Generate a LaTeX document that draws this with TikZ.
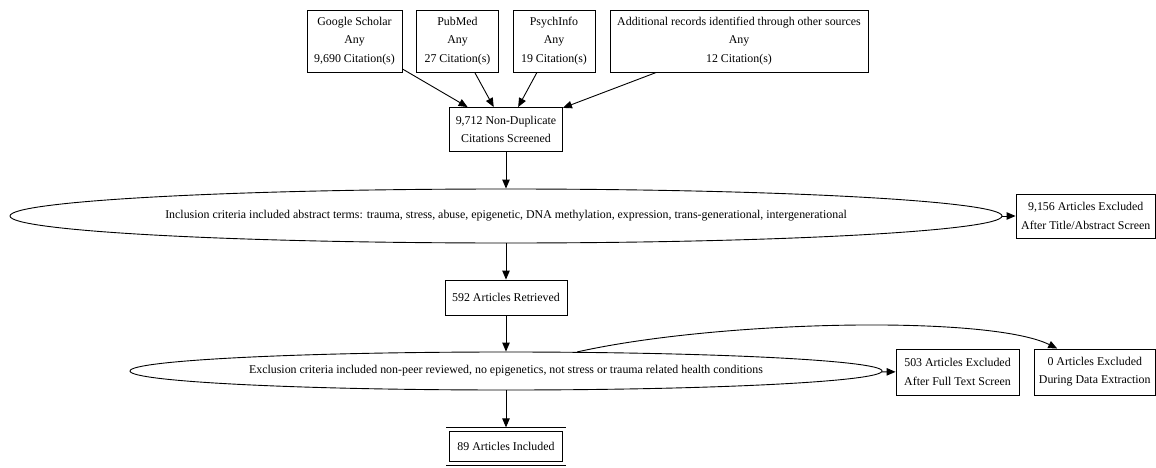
\documentclass[tikz,border=0pt]{standalone}
\usepackage{fontspec}
\setmainfont{Liberation Serif}
\usetikzlibrary{shapes.geometric,arrows.meta}

\begin{document}
\begin{tikzpicture}[
    x=1pt, y=-1pt,
    box/.style={rectangle, draw, line width=0.9pt, align=center, inner sep=2pt, minimum height=44pt, font=\fontsize{11.9}{18.3}\selectfont},
    crit/.style={ellipse, draw, line width=0.9pt, inner sep=0pt, font=\fontsize{11.9}{18.3}\selectfont},
    arrow/.style={-{Triangle[length=9pt, width=7.5pt]}, line width=0.9pt}
]
    \useasboundingbox (0,0) rectangle (1156,468);

    % Sources
    \node[box, minimum width=95pt, minimum height=62pt] (scholar) at (354.5,41) {Google Scholar\\Any\\9,690 Citation(s)};
    \node[box, minimum width=82pt, minimum height=62pt] (pubmed) at (457.5,41) {PubMed\\Any\\27 Citation(s)};
    \node[box, minimum width=82pt, minimum height=62pt] (psych) at (554,41) {PsychInfo\\Any\\19 Citation(s)};
    \node[box, minimum width=258pt, minimum height=62pt] (other) at (739,41) {Additional records identified through other sources\\Any\\12 Citation(s)};

    % Screening
    \node[box, minimum width=113pt] (nondup) at (506,129.5) {9,712 Non-Duplicate\\Citations Screened};
    \node[crit, minimum width=992pt, minimum height=54pt] (incl) at (506,216) {Inclusion criteria included abstract terms: trauma, stress, abuse, epigenetic, DNA methylation, expression, trans-generational, intergenerational};
    \node[box, minimum width=139.5pt] (titleexcl) at (1085.75,216) {9,156 Articles Excluded\\After Title/Abstract Screen};
    \node[box, minimum width=122pt, minimum height=35pt] (retrieved) at (506,297.5) {592 Articles Retrieved};
    \node[crit, minimum width=752pt, minimum height=38pt] (excl) at (506,371) {Exclusion criteria included non-peer reviewed, no epigenetics, not stress or trauma related health conditions};
    \node[box, minimum width=123pt, minimum height=46pt] (fullexcl) at (957.5,372) {503 Articles Excluded\\After Full Text Screen};
    \node[box, minimum width=121.5pt, minimum height=46pt] (dataexcl) at (1094.75,372) {0 Articles Excluded\\During Data Extraction};
    \node[box, double, double distance=2.6pt, minimum width=116.5pt, minimum height=34pt] (included) at (506,446.5) {89 Articles Included};

    % Edges
    \draw[arrow] (scholar) -- (nondup);
    \draw[arrow] (pubmed) -- (nondup);
    \draw[arrow] (psych) -- (nondup);
    \draw[arrow] (other) -- (nondup);
    \draw[arrow] (nondup) -- (incl);
    \draw[arrow] (incl) -- (titleexcl);
    \draw[arrow] (incl) -- (retrieved);
    \draw[arrow] (retrieved) -- (excl);
    \draw[arrow] (excl) -- (fullexcl);
    \draw[arrow] (excl.15) .. controls (720,320) and (990,315) .. (dataexcl.148);
    \draw[arrow, shorten >=1.7pt] (excl) -- (included);
\end{tikzpicture}
\end{document}
